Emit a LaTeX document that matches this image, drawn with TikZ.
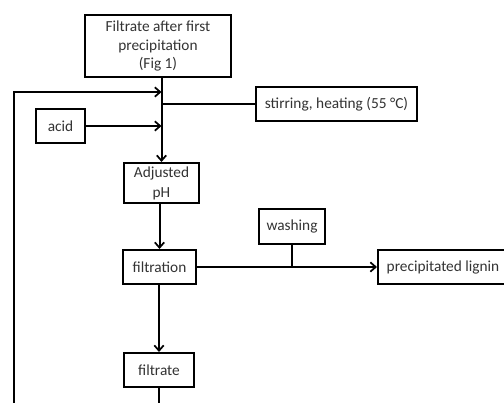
\documentclass[tikz,border=0pt]{standalone}
\usepackage{fontspec}
\setmainfont{Carlito}
\usetikzlibrary{arrows.meta}
\begin{document}
\begin{tikzpicture}[x=0.75pt,y=-0.75pt,
  box/.style={draw,line width=1.5pt,inner sep=0pt,align=center,font=\fontsize{11.5}{14}\selectfont,text=black!80},
  conn/.style={line width=1.5pt},
  arr/.style={conn,-{Straight Barb[length=4pt,width=7pt,line width=1.3pt]}}]
\useasboundingbox (0,0) rectangle (504,403);
\clip (0,0) rectangle (504,403);
\fill[white] (0,0) rectangle (504,403);
\node[box,minimum width=0.75pt*146,minimum height=0.75pt*62] (top) at (158,46) {Filtrate after first\\precipitation\\(Fig 1)};
\node[box,minimum width=0.75pt*161,minimum height=0.75pt*34] (stir) at (336.5,104) {stirring, heating (55 °C)};
\node[box,minimum width=0.75pt*49,minimum height=0.75pt*34] (acid) at (60.5,126) {acid};
\node[box,minimum width=0.75pt*75,minimum height=0.75pt*40,font=\fontsize{11.5}{15}\selectfont] (ph) at (161.5,183) {Adjusted\\pH};
\node[box,minimum width=0.75pt*73,minimum height=0.75pt*34] (filt) at (159.5,267) {filtration};
\node[box,minimum width=0.75pt*66,minimum height=0.75pt*35] (wash) at (292,226.5) {washing};
\node[box,minimum width=0.75pt*130,minimum height=0.75pt*34] (lig) at (443,267) {precipitated lignin};
\node[box,minimum width=0.75pt*70,minimum height=0.75pt*34] (fil2) at (159,370) {filtrate};
\coordinate (j1) at (161.5,92);
\coordinate (j2) at (161.5,104);
\coordinate (j3) at (161.5,126);
\coordinate (j4) at (292,267);
\coordinate (lb) at (14,410);
\coordinate (lt) at (14,92);
\coordinate (fb) at (159,410);
\draw[arr] (top.south -| ph.north) -- (ph.north);
\draw[conn] (j2) -- (stir.west);
\draw[arr] (acid.east) -- (j3);
\draw[arr] (lb) -- (lt) -- (j1);
\draw[arr] (ph.south -| filt.north) -- (filt.north);
\draw[arr] (filt.east) -- (lig.west);
\draw[conn] (wash.south) -- (j4);
\draw[arr] (filt.south -| fil2.north) -- (fil2.north);
\draw[conn] (fil2.south) -- (fb);
\end{tikzpicture}
\end{document}
